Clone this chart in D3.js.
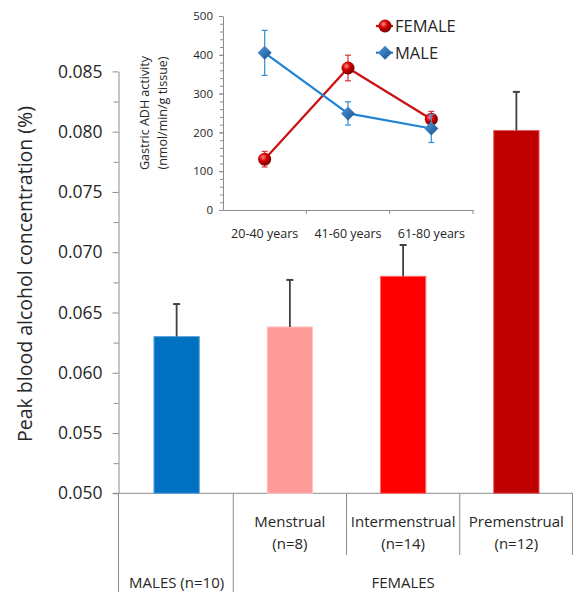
<!DOCTYPE html>
<html lang="en">
<head>
<meta charset="utf-8">
<title>Peak blood alcohol concentration</title>
<script src="https://d3js.org/d3.v7.min.js"></script>
<style>
  body { margin: 0; background: #fff; }
  svg text { font-family: "Open Sans", sans-serif; fill: #262626; }
  .axis path, .axis line { stroke: #8c8c8c; }
</style>
</head>
<body>
<div id="chart"></div>
<script>
// main bar chart data
var barKeys = ["Males", "Menstrual", "Intermenstrual", "Premenstrual"];
var barLabels = [[], ["Menstrual", "(n=8)"], ["Intermenstrual", "(n=14)"], ["Premenstrual", "(n=12)"]];
var barValues = [0.0630, 0.0638, 0.0680, 0.0801];
var barErrors = [0.0027, 0.0039, 0.0026, 0.0032];
var barColors = ["#0070c0", "#ff9b9b", "#ff0000", "#c00000"];
var barStrokes = ["#5aa3e0", "#ffc4c4", "#ff6a6a", "#e06060"];
var yTicks = [0.050, 0.055, 0.060, 0.065, 0.070, 0.075, 0.080, 0.085];

// inset line chart data
var ageGroups = ["20-40 years", "41-60 years", "61-80 years"];
var femaleADH = [131, 366, 234];
var femaleErr = [20, 33, 20];
var maleADH = [405, 249, 210];
var maleErr = [58, 30, 36];
var insetTicks = [0, 100, 200, 300, 400, 500];

var width = 576, height = 592;
var svg = d3.select("#chart").append("svg")
  .attr("width", width)
  .attr("height", height);

var defs = svg.append("defs");
var sphere = defs.append("radialGradient").attr("id", "sphere")
  .attr("cx", "38%").attr("cy", "35%").attr("r", "65%");
sphere.append("stop").attr("offset", "0%").attr("stop-color", "#ff8a8a");
sphere.append("stop").attr("offset", "45%").attr("stop-color", "#d40000");
sphere.append("stop").attr("offset", "100%").attr("stop-color", "#7a0000");
var dia = defs.append("linearGradient").attr("id", "dia")
  .attr("x1", "0%").attr("y1", "0%").attr("x2", "100%").attr("y2", "100%");
dia.append("stop").attr("offset", "0%").attr("stop-color", "#4f9be0");
dia.append("stop").attr("offset", "100%").attr("stop-color", "#17508a");

// ---- main chart ----
var axisX = 118.5;
var x = d3.scaleBand()
  .domain(barKeys)
  .range([120, 573])
  .paddingInner(0.6)
  .paddingOuter(0.3);

var y = d3.scaleLinear()
  .domain([0.050, 0.085])
  .range([493.3, 71.4]);

// minor ticks
svg.append("g")
  .attr("class", "axis")
  .attr("transform", "translate(" + axisX + ",0)")
  .call(d3.axisLeft(y).tickValues(d3.range(0.0525, 0.085, 0.005)).tickSize(5).tickFormat(""))
  .call(g => g.select(".domain").remove());

svg.append("g")
  .attr("class", "axis")
  .attr("transform", "translate(" + axisX + ",0)")
  .call(d3.axisLeft(y).tickValues(yTicks).tickSize(6).tickSizeOuter(0).tickPadding(10).tickFormat(d3.format(".3f")))
  .call(g => g.selectAll("text").style("font-size", "17.5px").attr("fill", "#262626"));

// table lines below the axis
var lines = svg.append("g").attr("stroke", "#8c8c8c").attr("stroke-width", 1);
lines.append("line").attr("x1", 113).attr("x2", 573).attr("y1", y(0.05)).attr("y2", y(0.05));
lines.append("line").attr("x1", axisX).attr("x2", axisX).attr("y1", y(0.05)).attr("y2", height);
barKeys.forEach(function(k, i) {
  if (i == 0) return;
  var bx = x(k) - x.step() * x.paddingInner() / 2;
  lines.append("line").attr("x1", bx).attr("x2", bx)
    .attr("y1", y(0.05)).attr("y2", i == 1 ? height : 555);
});
lines.append("line").attr("x1", 572.5).attr("x2", 572.5).attr("y1", y(0.05)).attr("y2", 555);

// bars
svg.append("g").selectAll("rect")
  .data(barKeys)
  .enter().append("rect")
  .attr("x", d => x(d))
  .attr("y", (d, i) => y(barValues[i]))
  .attr("width", x.bandwidth())
  .attr("height", (d, i) => y(0.05) - y(barValues[i]))
  .attr("fill", (d, i) => barColors[i])
  .attr("stroke", (d, i) => barStrokes[i])
  .attr("stroke-width", 1);

// error bars
var err = svg.append("g").attr("stroke", "#404040");
barKeys.forEach(function(k, i) {
  var cx = x(k) + x.bandwidth() / 2;
  err.append("line").attr("x1", cx).attr("x2", cx)
    .attr("y1", y(barValues[i])).attr("y2", y(barValues[i] + barErrors[i]))
    .attr("stroke-width", 1.8);
  err.append("line").attr("x1", cx - 3.5).attr("x2", cx + 3.5)
    .attr("y1", y(barValues[i] + barErrors[i])).attr("y2", y(barValues[i] + barErrors[i]))
    .attr("stroke-width", 2);
});

// category labels
barKeys.forEach(function(k, i) {
  barLabels[i].forEach(function(t, j) {
    svg.append("text")
      .attr("x", x(k) + x.bandwidth() / 2)
      .attr("y", 527 + j * 21.5)
      .attr("text-anchor", "middle")
      .style("font-size", "15px")
      .text(t);
  });
});
svg.append("text")
  .attr("x", x("Males") + x.bandwidth() / 2)
  .attr("y", 588)
  .attr("text-anchor", "middle")
  .style("font-size", "15px")
  .text("MALES (n=10)");
svg.append("text")
  .attr("x", x("Intermenstrual") + x.bandwidth() / 2)
  .attr("y", 588)
  .attr("text-anchor", "middle")
  .style("font-size", "15px")
  .text("FEMALES");

// y axis title
svg.append("text")
  .attr("transform", "translate(32,274) rotate(-90)")
  .attr("text-anchor", "middle")
  .style("font-size", "19.5px")
  .text("Peak blood alcohol concentration (%)");

// ---- inset chart ----
var ix = d3.scaleBand()
  .domain(ageGroups)
  .range([223, 473]);

var iy = d3.scaleLinear()
  .domain([0, 500])
  .range([210, 16]);

svg.append("g")
  .attr("class", "axis")
  .attr("transform", "translate(223,0)")
  .call(d3.axisLeft(iy).tickValues(d3.range(20, 500, 20)).tickSize(3).tickFormat(""))
  .call(g => g.select(".domain").remove());

svg.append("g")
  .attr("class", "axis")
  .attr("transform", "translate(223,0)")
  .call(d3.axisLeft(iy).tickValues(insetTicks).tickSize(4).tickSizeOuter(0).tickPadding(6))
  .call(g => g.selectAll("text").style("font-size", "11.5px").attr("fill", "#404040"));

var ixAxis = svg.append("g")
  .attr("class", "axis")
  .attr("transform", "translate(0,210)")
  .call(d3.axisBottom(ix).tickSize(0).tickSizeOuter(0).tickPadding(19))
  .call(g => g.selectAll("text").style("font-size", "12.5px").attr("fill", "#262626"));
ixAxis.selectAll(".bound")
  .data(ageGroups)
  .enter().append("line")
  .attr("x1", d => ix(d) + ix.bandwidth())
  .attr("x2", d => ix(d) + ix.bandwidth())
  .attr("y1", 0).attr("y2", 4)
  .attr("stroke", "#8c8c8c");

svg.append("text")
  .attr("transform", "translate(149,113) rotate(-90)")
  .attr("text-anchor", "middle")
  .style("font-size", "12.5px")
  .text("Gastric ADH activity");
svg.append("text")
  .attr("transform", "translate(167,113) rotate(-90)")
  .attr("text-anchor", "middle")
  .style("font-size", "12.5px")
  .text("(nmol/min/g tissue)");

var cxOf = d => ix(d) + ix.bandwidth() / 2;
var lineGen = d3.line().x(d => cxOf(d.k)).y(d => iy(d.v));

function series(vals, errs, lineColor, errColor) {
  var pts = ageGroups.map((k, i) => ({k: k, v: vals[i], e: errs[i]}));
  var g = svg.append("g");
  g.append("path").datum(pts)
    .attr("d", lineGen)
    .attr("fill", "none")
    .attr("stroke", lineColor)
    .attr("stroke-width", 2.2);
  pts.forEach(function(p) {
    var cx = cxOf(p.k);
    g.append("line").attr("x1", cx).attr("x2", cx)
      .attr("y1", iy(p.v - p.e)).attr("y2", iy(p.v + p.e))
      .attr("stroke", errColor).attr("stroke-width", 1.3);
    [p.v - p.e, p.v + p.e].forEach(function(v) {
      g.append("line").attr("x1", cx - 3).attr("x2", cx + 3)
        .attr("y1", iy(v)).attr("y2", iy(v))
        .attr("stroke", errColor).attr("stroke-width", 1.3);
    });
  });
  return {g: g, pts: pts};
}

function drawSphere(g, cx, cy) {
  g.append("circle").attr("cx", cx).attr("cy", cy).attr("r", 6.5)
    .attr("fill", "url(#sphere)");
}
function drawDiamond(g, cx, cy) {
  var s = 7;
  g.append("path")
    .attr("d", "M" + cx + "," + (cy - s) + "L" + (cx + s) + "," + cy + "L" + cx + "," + (cy + s) + "L" + (cx - s) + "," + cy + "Z")
    .attr("fill", "url(#dia)");
}

var fem = series(femaleADH, femaleErr, "#cc1010", "#d84040");
var mal = series(maleADH, maleErr, "#2183d4", "#3c96dc");
fem.pts.forEach(p => drawSphere(fem.g, cxOf(p.k), iy(p.v)));
mal.pts.forEach(p => drawDiamond(mal.g, cxOf(p.k), iy(p.v)));

// legend
var lg = svg.append("g");
lg.append("line").attr("x1", 376).attr("x2", 393).attr("y1", 26).attr("y2", 26)
  .attr("stroke", "#cc1010").attr("stroke-width", 2.2);
drawSphere(lg, 385, 26);
lg.append("text").attr("x", 395).attr("y", 26).attr("dy", "0.36em")
  .style("font-size", "16.5px").attr("fill", "#1a1a1a").text("FEMALE");
lg.append("line").attr("x1", 376).attr("x2", 393).attr("y1", 52.7).attr("y2", 52.7)
  .attr("stroke", "#2183d4").attr("stroke-width", 2.2);
drawDiamond(lg, 385, 52.7);
lg.append("text").attr("x", 395).attr("y", 52.7).attr("dy", "0.36em")
  .style("font-size", "16.5px").attr("fill", "#1a1a1a").text("MALE");
</script>
</body>
</html>
